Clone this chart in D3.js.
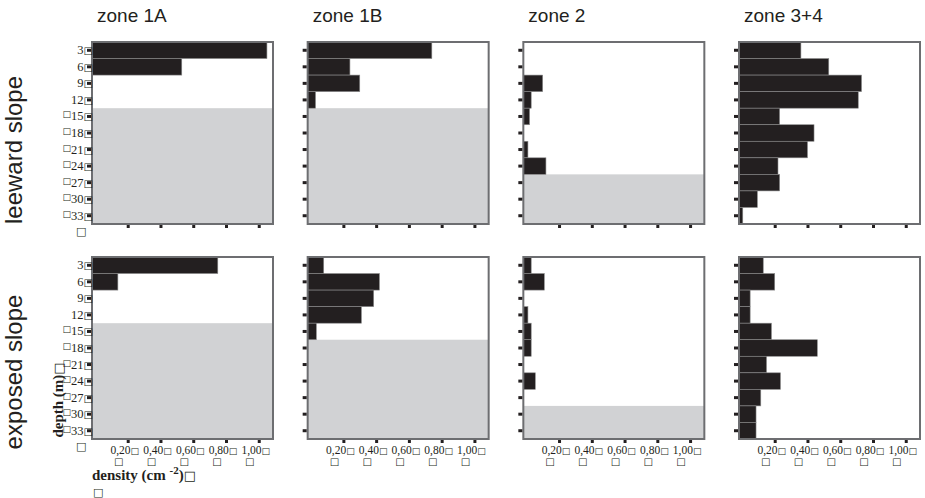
<!DOCTYPE html>
<html>
<head>
<meta charset="utf-8">
<script src="https://cdn.jsdelivr.net/npm/d3@7"></script>
<style>
    body { margin: 0; background: #fff; }
    svg { display: block; }
    .bx { font-family: "DejaVu Sans", sans-serif; font-weight: normal; fill: #231f20; }
</style>
</head>
<body>
<div id="chart"></div>
<script>
// data
var zones = ['zone 1A', 'zone 1B', 'zone 2', 'zone 3+4'];
var slopes = ['leeward slope', 'exposed slope'];
var depths = [3, 6, 9, 12, 15, 18, 21, 24, 27, 30, 33];
var xTicks = [0.2, 0.4, 0.6, 0.8, 1.0];

// density (cm-2) per depth bin
var leeward1A  = [1.05, 0.53, 0, 0, 0, 0, 0, 0, 0, 0, 0];
var leeward1B  = [0.74, 0.24, 0.30, 0.03, 0, 0, 0, 0, 0, 0, 0];
var leeward2   = [0, 0, 0.10, 0.03, 0.02, 0, 0.01, 0.12, 0, 0, 0];
var leeward34  = [0.36, 0.53, 0.73, 0.71, 0.23, 0.44, 0.40, 0.22, 0.23, 0.094, 0.005];
var exposed1A  = [0.75, 0.14, 0, 0, 0, 0, 0, 0, 0, 0, 0];
var exposed1B  = [0.08, 0.42, 0.385, 0.31, 0.035, 0, 0, 0, 0, 0, 0];
var exposed2   = [0.03, 0.11, 0, 0.01, 0.03, 0.03, 0, 0.055, 0, 0, 0];
var exposed34  = [0.13, 0.20, 0.05, 0.05, 0.18, 0.46, 0.15, 0.235, 0.115, 0.086, 0.086];

// deepest depth that exists in each zone, below it the panel is shaded
var leewardMaxDepth = [12, 12, 24, 33];
var exposedMaxDepth = [12, 15, 27, 33];

var rows = [
    {name: slopes[0], series: [leeward1A, leeward1B, leeward2, leeward34], maxDepth: leewardMaxDepth},
    {name: slopes[1], series: [exposed1A, exposed1B, exposed2, exposed34], maxDepth: exposedMaxDepth}
];

var W = 925, H = 498,
    panelW = 181, panelH = 182,
    colLeft = d3.scaleLinear().domain([0, 3]).range([92, 739]),
    rowTop = [42, 257],
    box = '\u25A1',
    ink = '#231f20',
    serif = '"Liberation Serif", "Times New Roman", serif',
    sans = '"Liberation Sans", Arial, sans-serif';

var svg = d3.select('#chart').append('svg')
    .attr('width', W)
    .attr('height', H);

var fmt = function(d) { return d3.format('.2f')(d).replace('.', ','); };

// text followed by the broken-glyph box of the original figure
var withBox = function(sel, str, boxSize) {
    sel.append('tspan').text(str);
    sel.append('tspan').attr('class', 'bx').style('font-size', boxSize).text(box);
};

// zone titles
svg.selectAll('text.zone')
    .data(zones).enter()
    .append('text').attr('class', 'zone')
    .attr('x', function(d, i) { return colLeft(i) + 5; })
    .attr('y', 22)
    .style('font-family', sans)
    .style('font-size', '19px')
    .style('fill', ink)
    .text(function(d) { return d; });

rows.forEach(function(row, r) {
    var top = rowTop[r];

    // row label
    svg.append('text')
        .attr('transform', 'translate(22,' + (r === 0 ? 150 : 372) + ') rotate(-90)')
        .attr('text-anchor', 'middle')
        .style('font-family', sans)
        .style('font-size', '24px')
        .style('fill', ink)
        .text(row.name);

    row.series.forEach(function(values, c) {
        var left = colLeft(c),
            x = d3.scaleLinear().domain([-0.018, 1.087]).range([left, left + panelW]),
            y = d3.scaleBand().domain(depths).range([top, top + panelH]).padding(0),
            g = svg.append('g');

        // shaded area below the deepest sampled depth
        var lastIdx = depths.indexOf(row.maxDepth[c]);
        if (lastIdx < depths.length - 1) {
            var y0 = y(depths[lastIdx + 1]);
            g.append('rect')
                .attr('x', left)
                .attr('y', y0)
                .attr('width', panelW)
                .attr('height', top + panelH - y0)
                .style('fill', '#d1d2d4');
        }

        g.selectAll('rect.bar')
            .data(values.map(function(v, i) { return {depth: depths[i], value: v}; })
                .filter(function(d) { return d.value > 0; }))
            .enter().append('rect').attr('class', 'bar')
            .attr('x', left)
            .attr('y', function(d) { return y(d.depth); })
            .attr('width', function(d) { return Math.max(1.5, x(d.value) - left); })
            .attr('height', y.bandwidth())
            .style('fill', ink)
            .style('stroke', '#8a8a8a')
            .style('stroke-width', 0.6);

        // frame
        g.append('rect')
            .attr('x', left)
            .attr('y', top)
            .attr('width', panelW)
            .attr('height', panelH)
            .style('fill', 'none')
            .style('stroke', '#6d6e71')
            .style('stroke-width', 2);

        // tick marks
        var yAxis = g.append('g')
            .attr('transform', 'translate(' + (left - 1) + ',0)')
            .call(d3.axisLeft(y).tickSize(4).tickFormat(''));
        yAxis.select('.domain').remove();
        yAxis.selectAll('line').style('stroke', ink).style('stroke-width', 3);

        var xAxis = g.append('g')
            .attr('transform', 'translate(0,' + (top + panelH + 1) + ')')
            .call(d3.axisBottom(x).tickValues(xTicks).tickSize(3).tickFormat(''));
        xAxis.select('.domain').remove();
        xAxis.selectAll('line').style('stroke', ink).style('stroke-width', 3);

        // depth labels only on the first column
        if (c === 0) {
            var yl = g.append('g').style('font-family', serif).style('font-size', '12.5px').style('fill', ink);
            yl.selectAll('text.lab')
                .data(depths).enter()
                .append('text').attr('class', 'lab')
                .attr('x', left + 1)
                .attr('y', function(d) { return y(d) + y.bandwidth() / 2 + 4; })
                .attr('text-anchor', 'end')
                .each(function(d) {
                    var t = d3.select(this);
                    // deeper labels carry a second broken glyph in front
                    if (d >= 15) {
                        t.append('tspan').attr('class', 'bx').attr('dy', -3).style('font-size', '9px').text(box);
                        t.append('tspan').attr('dy', 3).text(String(d));
                        t.append('tspan').attr('class', 'bx').style('font-size', '10px').text(box);
                    } else {
                        withBox(t, String(d), '10px');
                    }
                });
            yl.append('text')
                .attr('class', 'bx')
                .attr('x', left - 16)
                .attr('y', top + panelH + 11)
                .style('font-size', '11px')
                .text(box);
        }

        // value labels only on the bottom row
        if (r === 1) {
            var xl = g.append('g').style('font-family', serif).style('font-size', '11.5px').style('fill', ink);
            xl.selectAll('text.val')
                .data(xTicks).enter()
                .append('text').attr('class', 'val')
                .attr('x', function(d) { return x(d) - 3; })
                .attr('y', top + panelH + 15)
                .attr('text-anchor', 'middle')
                .each(function(d) { withBox(d3.select(this), fmt(d), '9px'); });
            xl.selectAll('text.vbox')
                .data(xTicks).enter()
                .append('text').attr('class', 'vbox bx')
                .attr('x', function(d) { return x(d) - 9; })
                .attr('y', top + panelH + 26)
                .attr('text-anchor', 'middle')
                .style('font-size', '10px')
                .text(box);
        }
    });
});

// axis titles
var depthTitle = svg.append('text')
    .attr('transform', 'translate(63,400) rotate(-90)')
    .attr('text-anchor', 'middle')
    .style('font-family', serif)
    .style('font-weight', 'bold')
    .style('font-size', '15px')
    .style('fill', ink);
withBox(depthTitle, 'depth (m)', '13px');

var dens = svg.append('text')
    .attr('x', 92)
    .attr('y', 480)
    .style('font-family', serif)
    .style('font-weight', 'bold')
    .style('font-size', '15px')
    .style('fill', ink);
dens.append('tspan').text('density (cm ');
dens.append('tspan').attr('dy', -6).style('font-size', '11px').text('-2');
dens.append('tspan').attr('dy', 6).text(')');
dens.append('tspan').attr('class', 'bx').style('font-size', '13px').text(box);

svg.append('text')
    .attr('class', 'bx')
    .attr('x', 93)
    .attr('y', 496)
    .style('font-size', '11px')
    .text(box);
</script>
</body>
</html>
